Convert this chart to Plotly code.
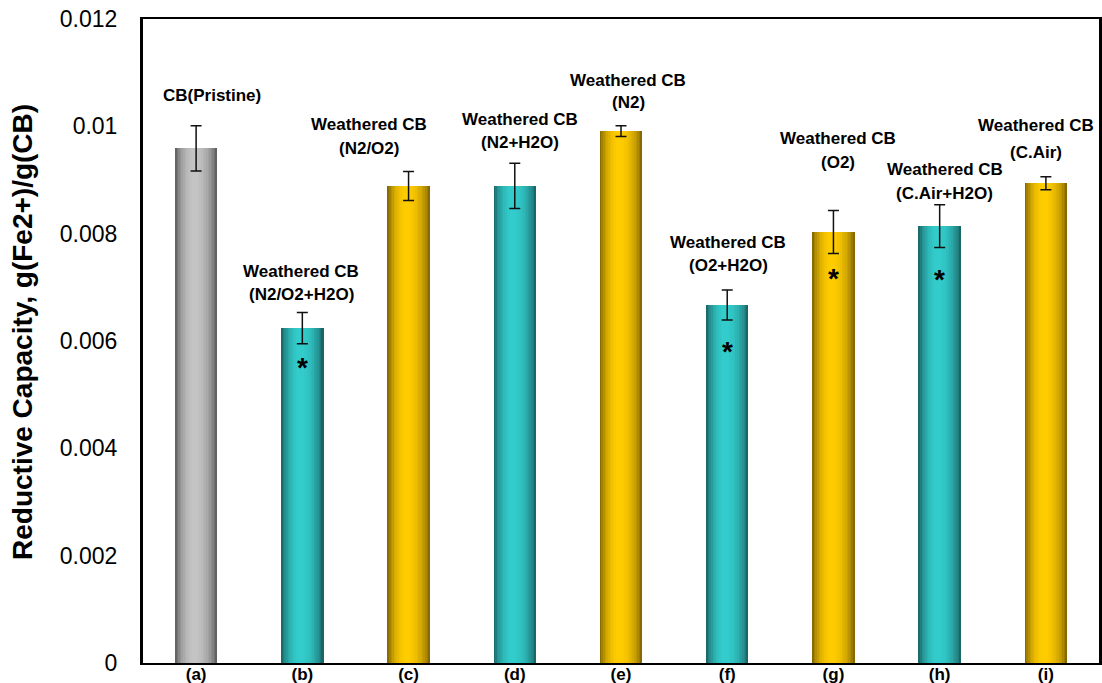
import plotly.graph_objects as go

# ---- data -------------------------------------------------------------
categories = ["(a)", "(b)", "(c)", "(d)", "(e)", "(f)", "(g)", "(h)", "(i)"]
values = [0.00959, 0.00624, 0.00889, 0.00889, 0.00991, 0.00667, 0.00803, 0.00814, 0.00894]
errors = [0.00042, 0.00029, 0.00027, 0.00042, 0.00010, 0.00028, 0.00040, 0.00040, 0.00012]
groups = ["pristine", "humid", "dry", "humid", "dry", "humid", "dry", "humid", "dry"]
label_line1 = ["CB(Pristine)", "Weathered CB", "Weathered CB", "Weathered CB", "Weathered CB",
               "Weathered CB", "Weathered CB", "Weathered CB", "Weathered CB"]
label_line2 = ["", "(N2/O2+H2O)", "(N2/O2)", "(N2+H2O)", "(N2)",
               "(O2+H2O)", "(O2)", "(C.Air+H2O)", "(C.Air)"]
significant = [False, True, False, False, False, True, True, True, False]

# ---- label placement (axis units / pixel shifts) ---------------------
label_y1 = [0.01057, 0.00730, 0.01003, 0.01013, 0.01086, 0.00783, 0.00978, 0.00919, 0.01001]
label_y2 = [None, 0.00686, 0.00958, 0.00969, 0.01045, 0.00740, 0.00932, 0.00874, 0.00952]
label_dx = [16, -1, -40, 5, 7, 1, 5, 5, -10]
star_y = [None, 0.00563, None, None, None, 0.00593, 0.00730, 0.00727, None]

# ---- style ------------------------------------------------------------
FONT = "Liberation Sans, Arial, sans-serif"
BAR_WIDTH = 0.40
N_STRIPS = 26
palette = {
    "pristine": ((0x55, 0x55, 0x55), (0xC4, 0xC4, 0xC4)),
    "humid": ((0x18, 0x5A, 0x5A), (0x33, 0xCC, 0xCC)),
    "dry": ((0x76, 0x5C, 0x00), (0xFF, 0xCC, 0x00)),
}


def shade(t):
    """Cylindrical brightness profile across a bar (0 = edge, 1 = highlight)."""
    peak = 0.45
    d = (t - peak) / peak if t < peak else (t - peak) / (1 - peak)
    return max(0.0, 1 - d * d) ** 0.8


def blend(dark, light, f):
    r, g, b = (int(round(dk + (lt - dk) * f)) for dk, lt in zip(dark, light))
    return f"rgb({r},{g},{b})"


fig = go.Figure()

# gradient bars built from narrow vertical strips
step = BAR_WIDTH / N_STRIPS
for k in range(N_STRIPS):
    t = (k + 0.5) / N_STRIPS
    offset = -BAR_WIDTH / 2 + k * step
    width = min(step * 1.4, BAR_WIDTH / 2 - offset)
    colors = [blend(*palette[g], shade(t)) for g in groups]
    fig.add_trace(go.Bar(
        x=categories, y=values, offset=offset, width=width,
        marker=dict(color=colors, line=dict(width=0)),
        showlegend=False, hoverinfo="skip",
    ))

# error bars
fig.add_trace(go.Scatter(
    x=categories, y=values, mode="markers",
    marker=dict(size=2, color="rgba(0,0,0,0)"),
    error_y=dict(type="data", array=errors, color="#111111", thickness=1.5, width=5.5),
    showlegend=False, hoverinfo="skip",
))

annotations = []
for i, cat in enumerate(categories):
    annotations.append(dict(
        x=cat, y=label_y1[i], xref="x", yref="y", text=f"<b>{label_line1[i]}</b>",
        showarrow=False, xshift=label_dx[i], yanchor="middle",
        font=dict(family=FONT, size=17, color="black"),
    ))
    if label_line2[i]:
        annotations.append(dict(
            x=cat, y=label_y2[i], xref="x", yref="y", text=f"<b>{label_line2[i]}</b>",
            showarrow=False, xshift=label_dx[i], yanchor="middle",
            font=dict(family=FONT, size=17, color="black"),
        ))
    if significant[i]:
        annotations.append(dict(
            x=cat, y=star_y[i], xref="x", yref="y", text="<b>*</b>",
            showarrow=False, yanchor="middle", yshift=-7,
            font=dict(family=FONT, size=28, color="black"),
        ))

# y-axis title
annotations.append(dict(
    x=-0.1255, y=0.514, xref="paper", yref="paper",
    text="<b>Reductive Capacity, g(Fe2+)/g(CB)</b>", textangle=-90,
    showarrow=False, xanchor="center", yanchor="middle",
    font=dict(family=FONT, size=28, color="black"),
))

fig.update_layout(
    width=1102, height=683,
    margin=dict(l=143, r=3, t=19, b=20, autoexpand=False),
    paper_bgcolor="white", plot_bgcolor="white",
    barmode="overlay", bargap=0,
    annotations=annotations,
    font=dict(family=FONT, color="black"),
)
fig.update_xaxes(
    type="category", range=[-0.5, 8.5],
    showline=True, linewidth=2, linecolor="black", mirror=True,
    showgrid=False, ticks="", automargin=False,
    tickfont=dict(family=FONT, size=17, color="black"),
    tickprefix="<b>", ticksuffix="</b>", ticklabelstandoff=-5,
)
fig.update_yaxes(
    range=[0, 0.012], dtick=0.002, tick0=0,
    showline=True, linewidth=3, linecolor="black", mirror=True,
    showgrid=False, zeroline=False, ticks="", automargin=False,
    tickfont=dict(family=FONT, size=23, color="black"),
    ticklabelstandoff=18,
)

fig.write_html("out.html")
